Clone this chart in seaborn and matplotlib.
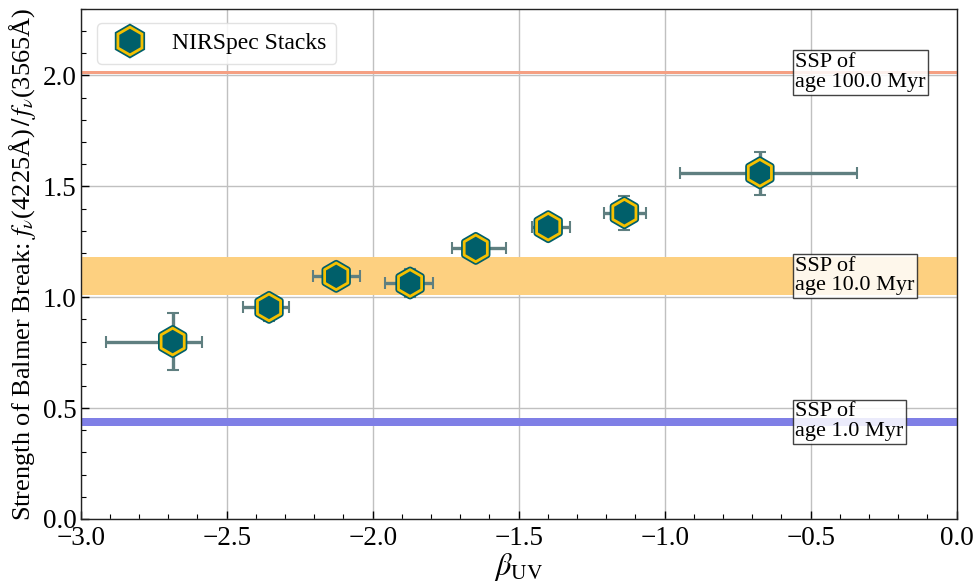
import matplotlib
matplotlib.use("Agg")
import matplotlib.pyplot as plt
import matplotlib.patheffects as pe
from matplotlib.lines import Line2D
from matplotlib.ticker import MultipleLocator, AutoMinorLocator
import seaborn as sns
import pandas as pd

# ---- data ----
beta_uv = [-2.685, -2.355, -2.125, -1.872, -1.647, -1.399, -1.138, -0.674]
balmer = [0.80, 0.954, 1.094, 1.064, 1.220, 1.318, 1.381, 1.561]
xerr_lo = [0.23, 0.09, 0.08, 0.085, 0.08, 0.055, 0.07, 0.274]
xerr_hi = [0.10, 0.07, 0.08, 0.08, 0.105, 0.075, 0.075, 0.334]
yerr_lo = [0.13, 0.06, 0.04, 0.065, 0.04, 0.04, 0.08, 0.10]
yerr_hi = [0.13, 0.05, 0.04, 0.065, 0.04, 0.04, 0.075, 0.095]

ssp_labels = ["SSP of\nage 100.0 Myr", "SSP of\nage 10.0 Myr", "SSP of\nage 1.0 Myr"]
ssp_lo = [2.005, 1.01, 0.42]
ssp_hi = [2.022, 1.18, 0.456]
ssp_colors = ["#f5a083", "#fdd080", "#7f7fe6"]

df = pd.DataFrame({"beta": beta_uv, "bb": balmer})

sns.set_theme(style="whitegrid")
plt.rcParams["font.family"] = ["Liberation Serif", "DejaVu Serif"]
plt.rcParams["mathtext.fontset"] = "stix"
plt.rcParams["text.color"] = "black"
plt.rcParams["axes.labelcolor"] = "black"

fig = plt.figure(figsize=(9.77, 5.83), dpi=100)
ax = fig.add_axes([0.0826, 0.110, 0.8966, 0.8746])
ax.set_facecolor("white")

teal = "#005f6a"
gold = "#f5c000"
errc = "#5f7f80"

for lo, hi, c, lab in zip(ssp_lo, ssp_hi, ssp_colors, ssp_labels):
    ax.axhspan(lo, hi, color=c, lw=0, zorder=1)
    ax.text(-0.553, (lo + hi) / 2, lab, ha="left", va="center", fontsize=16,
            color="black", linespacing=1.05, zorder=5,
            bbox=dict(boxstyle="square,pad=0.12", facecolor="white", alpha=0.85,
                      edgecolor="#222222", linewidth=1.0))

ax.errorbar(beta_uv, balmer, xerr=[xerr_lo, xerr_hi], yerr=[yerr_lo, yerr_hi],
            fmt="none", ecolor=errc, elinewidth=2.4, capsize=4.5, capthick=1.5,
            zorder=3)

effects = [pe.Stroke(linewidth=4.5, foreground=teal), pe.Normal()]
sns.scatterplot(data=df, x="beta", y="bb", marker="h", s=370, color=teal,
                edgecolor=gold, linewidth=2.0, ax=ax, zorder=4, legend=False,
                path_effects=effects)

handle = Line2D([], [], ls="none", marker="h", markersize=20, markerfacecolor=teal,
                markeredgecolor=gold, markeredgewidth=2.0, path_effects=effects)
leg = ax.legend([handle], ["NIRSpec Stacks"], loc="upper left", fontsize=17,
                frameon=True, fancybox=True, framealpha=0.85, borderpad=0.4,
                handlelength=2.0, handletextpad=0.8, borderaxespad=0.5,
                bbox_to_anchor=(0.005, 0.995))
leg.get_frame().set_edgecolor("#dddddd")
for t in leg.get_texts():
    t.set_color("black")

ax.set_xlim(-3.0, 0.0)
ax.set_ylim(0.0, 2.3)
ax.xaxis.set_major_locator(MultipleLocator(0.5))
ax.yaxis.set_major_locator(MultipleLocator(0.5))
ax.xaxis.set_minor_locator(AutoMinorLocator(5))
ax.yaxis.set_minor_locator(AutoMinorLocator(5))
ax.grid(True, which="major", color="#c0c0c0", lw=1.0)
ax.grid(False, which="minor")
ax.tick_params(which="both", direction="in", left=True, bottom=True,
               top=False, right=False, colors="black", labelsize=19.5)
ax.tick_params(which="major", length=6, width=1)
ax.tick_params(which="minor", length=3.5, width=0.8)
ax.tick_params(axis="x", pad=5)
ax.tick_params(axis="y", pad=3)
for s in ax.spines.values():
    s.set_color("#222222")
    s.set_linewidth(1.0)

ax.set_xlabel(r"$\beta_{\rm UV}$", fontsize=22, labelpad=0)
ax.set_ylabel("Strength of Balmer Break: $f_\\nu$(4225Å)$\\,/\\,f_\\nu$(3565Å)",
              fontsize=19, labelpad=3)

fig.savefig("out.png", dpi=100)
